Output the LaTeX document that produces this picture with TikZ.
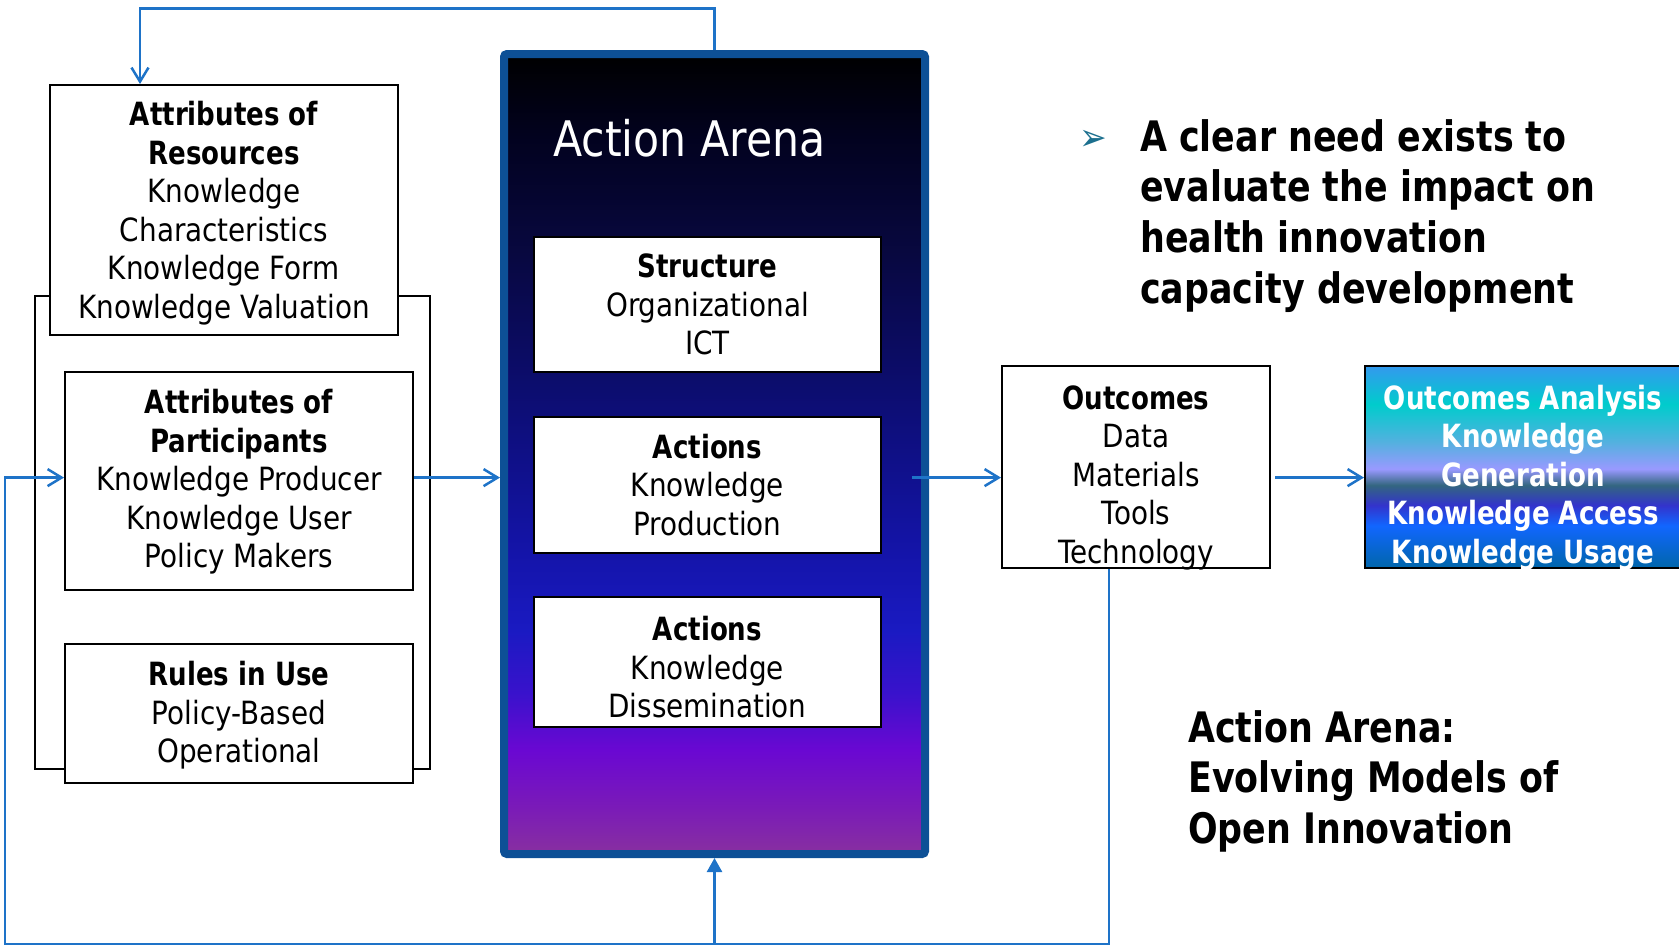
\documentclass[tikz,border=0pt]{standalone}
\usepackage{fontspec}
\setmainfont[FakeStretch=0.87]{DejaVu Sans}
\newfontfamily\rg[FakeStretch=0.87]{DejaVu Sans}
\newfontfamily\bd[FakeStretch=0.815]{DejaVu Sans Bold}
\newfontfamily\bigbd[FakeStretch=0.83]{DejaVu Sans Bold}
\usetikzlibrary{arrows.meta,calc}

\definecolor{flow}{RGB}{30,115,200}
\definecolor{arenaline}{RGB}{13,80,150}
\definecolor{bulletteal}{RGB}{27,111,142}

\pgfdeclareverticalshading{arenashade}{100bp}{%
 rgb(0bp)=(0.533,0.188,0.627);
 rgb(25bp)=(0.533,0.188,0.627);
 rgb(28bp)=(0.478,0.102,0.722);
 rgb(31.5bp)=(0.416,0.031,0.824);
 rgb(35bp)=(0.227,0.071,0.8);
 rgb(39bp)=(0.102,0.102,0.761);
 rgb(44bp)=(0.078,0.078,0.659);
 rgb(52.5bp)=(0.051,0.055,0.471);
 rgb(62.5bp)=(0.031,0.031,0.251);
 rgb(70bp)=(0.008,0.008,0.118);
 rgb(75bp)=(0,0,0);
 rgb(100bp)=(0,0,0)}

\pgfdeclareverticalshading{anashade}{100bp}{%
 rgb(0bp)=(0,0.4,0.667);
 rgb(25bp)=(0,0.4,0.667);
 rgb(35.5bp)=(0.067,0.4,1);
 rgb(40.5bp)=(0.2,0.2,0.8);
 rgb(45.5bp)=(0.2,0.4,0.5);
 rgb(49.5bp)=(0.6,0.6,1);
 rgb(56bp)=(0.333,0.69,0.878);
 rgb(65.5bp)=(0,0.8,0.8);
 rgb(75bp)=(0.2,0.6,0.933);
 rgb(100bp)=(0.2,0.6,0.933)}

\tikzset{
  flowline/.style={draw=flow, line width=2.5pt},
  openarr/.style={flowline, -{Straight Barb[length=14pt,width=17pt]}},
  fillarr/.style={flowline, -{Triangle[length=14pt,width=15pt]}},
  wbox/.style={draw=black, line width=2pt, fill=white, inner sep=0pt},
  boxtext/.style={align=center, inner sep=0pt, font=\rg\fontsize{32}{38.5}\selectfont},
  frameline/.style={draw=black, line width=1.7pt, inner sep=0pt},
  bigtext/.style={anchor=north west, align=left, inner sep=0pt,
    font=\bigbd\fontsize{42}{50.7}\selectfont},
}

\begin{document}
\begin{tikzpicture}[x=1pt,y=-1pt]
\useasboundingbox (0,0) rectangle (1679,946);

% bracket frame behind left boxes
\node[frameline, minimum width=395pt, minimum height=473pt] (frame) at (232.5,532.5) {};

% left boxes
\node[wbox, minimum width=348pt, minimum height=250pt] (res) at (224,210) {};
\node[boxtext] (rest) at ($(res.center)+(0,3.2)$)
  {{\bd Attributes of}\\{\bd Resources}\\Knowledge\\Characteristics\\Knowledge Form\\Knowledge Valuation};
\node[wbox, minimum width=348pt, minimum height=218pt] (part) at (239,481) {};
\node[boxtext] (partt) at ($(part.center)+(0,1)$)
  {{\bd Attributes of}\\{\bd Participants}\\Knowledge Producer\\Knowledge User\\Policy Makers};
\node[wbox, minimum width=348pt, minimum height=139pt] (rules) at (239,713.5) {};
\node[boxtext] (rulest) at ($(rules.center)+(0,2)$)
  {{\bd Rules in Use}\\Policy-Based\\Operational};

% action arena
\node[draw=arenaline, line width=8pt, shading=arenashade, rounded corners=3pt,
  minimum width=421pt, minimum height=800pt, inner sep=0pt] (arena) at (714.5,454) {};
\node[text=white, anchor=west, inner sep=0pt, font=\rg\fontsize{49}{58}\selectfont]
  (title) at (553,138) {Action Arena};

\node[wbox, minimum width=347pt, minimum height=135pt] (struct) at (707.5,304.5) {};
\node[boxtext] (structt) at (struct.center)
  {{\bd Structure}\\Organizational\\ICT};
\node[wbox, minimum width=347pt, minimum height=136pt] (kp) at (707.5,485) {};
\node[boxtext] (kpt) at (kp.center)
  {{\bd Actions}\\Knowledge\\Production};
\node[wbox, minimum width=347pt, minimum height=130pt] (kd) at (707.5,662) {};
\node[boxtext] (kdt) at ($(kd.center)+(0,5.4)$)
  {{\bd Actions}\\Knowledge\\Dissemination};

% outcomes
\node[wbox, minimum width=268pt, minimum height=202pt] (out) at (1136,467) {};
\node[boxtext] (outt) at ($(out.center)+(0,10.7)$)
  {{\bd Outcomes}\\Data\\Materials\\Tools\\Technology};
\node[draw=black, line width=2pt, shading=anashade, minimum width=320pt, minimum height=202pt,
  inner sep=0pt] (ana) at (1525,467) {};
\node[boxtext, text=white, font=\bd\fontsize{32}{38.5}\selectfont] (anat) at ($(ana.center)+(-2,10.7)$)
  {Outcomes Analysis\\Knowledge\\Generation\\Knowledge Access\\Knowledge Usage};

% right texts
\node[text=bulletteal, inner sep=0pt, font=\rg\fontsize{38}{44}\selectfont] (bul) at (1093,140) {➢};
\node[bigtext] (need) at (1140,119)
  {A clear need exists to\\evaluate the impact on\\health innovation\\capacity development};
\node[bigtext] (evo) at (1188,710)
  {Action Arena:\\Evolving Models of\\Open Innovation};

% helper coordinates
\coordinate (ay) at (0,477.6);
\coordinate (ttop) at (140,8.6);
\coordinate (aout) at (912,477.6);
\coordinate (bo) at (1109,944);
\coordinate (bl) at (5,944);
\coordinate (bm) at (714.5,944);

% connectors
\draw[openarr] (arena.north) |- (ttop) -- (ttop |- res.north);
\draw[openarr] (part.east |- ay) -- (arena.west |- ay);
\draw[openarr] (aout) -- (out.west |- ay);
\draw[openarr] ($(out.east |- ay)+(4,0)$) -- (ana.west |- ay);
\draw[openarr] (out.south -| bo) -- (bo) -- (bl) |- (part.west |- ay);
\draw[fillarr] (bm) -- (arena.south);
\end{tikzpicture}
\end{document}
